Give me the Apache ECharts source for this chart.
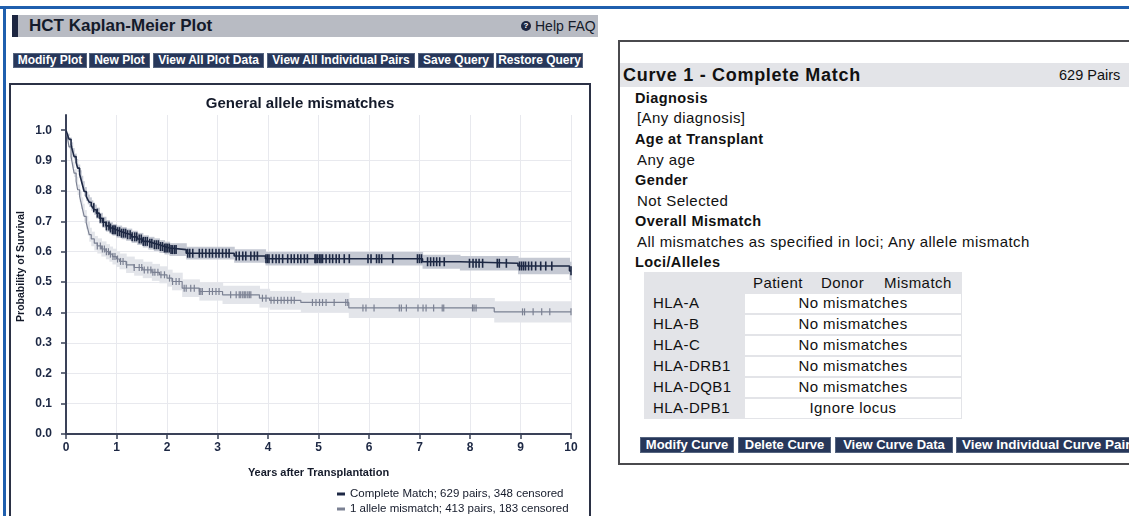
<!DOCTYPE html>
<html><head><meta charset="utf-8">
<script src="https://cdn.jsdelivr.net/npm/echarts@6/dist/echarts.min.js"></script>
<style>
html,body{margin:0;padding:0;width:1129px;height:516px;overflow:hidden;background:#fff;font-family:"Liberation Sans",Arial,Helvetica,sans-serif;color:#141414;}
.a{position:absolute;white-space:nowrap;}
.btn{position:absolute;background:#27375a;color:#fff;font-weight:bold;text-align:center;white-space:nowrap;overflow:hidden;box-shadow:inset 0 0 0 1px #55647f;font-family:"Liberation Sans Narrow","Liberation Sans",Arial,sans-serif;}
.h{font-weight:bold;font-size:14.5px;line-height:20px;letter-spacing:0.4px;color:#111;}
.v{font-size:15px;line-height:20px;letter-spacing:0.45px;color:#111;}
</style></head>
<body>
<div class="a" style="left:0;top:6px;width:1129px;height:3px;background:#1f5fae"></div>
<div class="a" style="left:3px;top:6px;width:3px;height:510px;background:#1f5fae"></div>

<div class="a" style="left:12px;top:15px;width:586px;height:22px;background:#b8bbc3"></div>
<div class="a" style="left:12px;top:15px;width:6px;height:22px;background:#1c2540"></div>
<div class="a" style="left:29px;top:15px;line-height:22px;font-size:17px;font-weight:bold;color:#141a2a">HCT Kaplan-Meier Plot</div>
<div class="a" style="left:521px;top:21px;width:10px;height:10px;border-radius:5px;background:#1c2540;color:#fff;font-size:8px;font-weight:bold;line-height:10px;text-align:center">?</div>
<div class="a" style="left:535px;top:15px;line-height:22px;font-size:14px;color:#141a2a">Help FAQ</div>

<div class="btn" style="left:13px;top:53px;width:74px;height:15px;line-height:15px;font-size:12px">Modify Plot</div>
<div class="btn" style="left:89px;top:53px;width:61px;height:15px;line-height:15px;font-size:12px">New Plot</div>
<div class="btn" style="left:153px;top:53px;width:111px;height:15px;line-height:15px;font-size:12px">View All Plot Data</div>
<div class="btn" style="left:267px;top:53px;width:148px;height:15px;line-height:15px;font-size:12px">View All Individual Pairs</div>
<div class="btn" style="left:418px;top:53px;width:76px;height:15px;line-height:15px;font-size:12px">Save Query</div>
<div class="btn" style="left:496px;top:53px;width:87px;height:15px;line-height:15px;font-size:12px">Restore Query</div>

<div class="a" style="left:9px;top:83px;width:578px;height:460px;border:2px solid #2b3145"></div>
<div id="chart" class="a" style="left:11px;top:85px;width:578px;height:431px"></div>

<div class="a" style="left:618px;top:40px;width:600px;height:421px;border:2px solid #4a4a4e"></div>
<div class="a" style="left:620px;top:63px;width:509px;height:24px;background:#e3e4e8"></div>
<div class="a" style="left:623px;top:63px;line-height:24px;font-size:18px;font-weight:bold;letter-spacing:0.7px;color:#111">Curve 1 - Complete Match</div>
<div class="a" style="left:1059px;top:63px;line-height:24px;font-size:14.5px;color:#111">629 Pairs</div>

<div class="a h" style="left:635px;top:88px">Diagnosis</div>
<div class="a v" style="left:637px;top:108px">[Any diagnosis]</div>
<div class="a h" style="left:635px;top:129px">Age at Transplant</div>
<div class="a v" style="left:637px;top:150px">Any age</div>
<div class="a h" style="left:635px;top:170px">Gender</div>
<div class="a v" style="left:637px;top:191px">Not Selected</div>
<div class="a h" style="left:635px;top:211px">Overall Mismatch</div>
<div class="a v" style="left:637px;top:232px">All mismatches as specified in loci; Any allele mismatch</div>
<div class="a h" style="left:635px;top:252px">Loci/Alleles</div>

<div class="a" style="left:644px;top:272px;width:318px;height:147px;background:#e3e4e8"></div>
<div class="a v" style="left:753px;top:273px">Patient</div>
<div class="a v" style="left:821px;top:273px">Donor</div>
<div class="a v" style="left:884px;top:273px">Mismatch</div>
<div id="rows"></div>

<div class="btn" style="left:640px;top:437px;width:94px;height:16px;line-height:16px;font-size:13px">Modify Curve</div>
<div class="btn" style="left:738px;top:437px;width:93px;height:16px;line-height:16px;font-size:13px">Delete Curve</div>
<div class="btn" style="left:835px;top:437px;width:118px;height:16px;line-height:16px;font-size:13px">View Curve Data</div>
<div class="btn" style="left:956px;top:437px;width:190px;height:16px;line-height:16px;font-size:13.5px;text-align:left;padding-left:6px">View Individual Curve Pairs</div>

<script>
// ---- table content ----
const lociNames = ['HLA-A','HLA-B','HLA-C','HLA-DRB1','HLA-DQB1','HLA-DPB1'];
const lociValues = ['No mismatches','No mismatches','No mismatches','No mismatches','No mismatches','Ignore locus'];

// ---- chart data ----
const xTickLabels = ['0','1','2','3','4','5','6','7','8','9','10'];
const yTickValues = [0,0.1,0.2,0.3,0.4,0.5,0.6,0.7,0.8,0.9,1.0];
const yTickLabels = ['0.0','0.1','0.2','0.3','0.4','0.5','0.6','0.7','0.8','0.9','1.0'];

const cmName = 'Complete Match; 629 pairs, 348 censored';
const amName = '1 allele mismatch; 413 pairs, 183 censored';

const cmTimes = [0,0.03,0.06,0.1,0.13,0.16,0.2,0.23,0.27,0.3,0.33,0.36,0.4,0.43,0.46,0.5,0.53,0.56,0.6,0.66,0.72,0.79,0.86,0.92,1.0,1.1,1.19,1.3,1.41,1.52,1.63,1.74,1.85,1.95,2.05,2.38,3.33,3.95,7.06,7.8,8.95,9.97,10];
const cmSurv  = [1.0,0.985,0.97,0.952,0.932,0.913,0.894,0.875,0.855,0.836,0.817,0.798,0.782,0.772,0.763,0.752,0.745,0.738,0.727,0.71,0.697,0.685,0.678,0.672,0.666,0.661,0.656,0.649,0.642,0.634,0.628,0.623,0.617,0.612,0.607,0.595,0.586,0.577,0.567,0.562,0.553,0.537,0.537];
const cmLower = [1.0,0.981,0.964,0.944,0.923,0.903,0.883,0.863,0.842,0.822,0.802,0.783,0.767,0.756,0.747,0.735,0.728,0.721,0.709,0.692,0.679,0.666,0.659,0.653,0.646,0.641,0.636,0.629,0.622,0.614,0.607,0.602,0.596,0.591,0.586,0.574,0.564,0.555,0.544,0.538,0.526,0.507,0.507];
const cmUpper = [1.0,0.989,0.976,0.96,0.941,0.923,0.905,0.887,0.868,0.85,0.832,0.813,0.797,0.788,0.779,0.769,0.762,0.755,0.745,0.728,0.715,0.704,0.697,0.691,0.686,0.681,0.676,0.669,0.662,0.654,0.649,0.644,0.638,0.633,0.628,0.616,0.608,0.599,0.59,0.586,0.58,0.567,0.567];
const cmCensor = [0.55,0.62,0.68,0.74,0.8,0.85,0.88,0.92,0.95,0.98,1.02,1.06,1.1,1.14,1.18,1.22,1.27,1.31,1.36,1.4,1.45,1.49,1.53,1.57,1.61,1.66,1.7,1.75,1.79,1.83,1.87,1.91,1.95,1.98,2.01,2.045,2.08,2.11,2.15,2.18,2.41,2.45,2.51,2.64,2.7,2.77,2.84,2.9,2.97,3.03,3.1,3.17,3.23,3.37,3.43,3.5,3.56,3.66,3.73,3.79,3.96,3.99,4.02,4.09,4.16,4.22,4.29,4.39,4.46,4.52,4.59,4.65,4.72,4.78,4.93,4.95,4.98,5.02,5.05,5.08,5.15,5.22,5.28,5.35,5.41,5.51,5.61,5.98,6.04,6.15,6.2,6.25,6.47,6.96,7.0,7.04,7.16,7.22,7.28,7.34,7.4,7.49,7.99,8.06,8.12,8.18,8.25,8.54,8.58,8.72,8.98,9.02,9.06,9.1,9.16,9.22,9.3,9.4,9.5,9.62,10.0];

const amTimes = [0,0.03,0.06,0.1,0.13,0.16,0.2,0.23,0.27,0.3,0.33,0.36,0.4,0.43,0.46,0.5,0.56,0.62,0.7,0.79,0.86,0.92,1.0,1.06,1.19,1.35,1.52,1.7,1.85,2.0,2.1,2.3,2.64,3.1,3.83,4.03,4.65,5.6,8.48,10];
const amSurv  = [1.0,0.975,0.945,0.913,0.886,0.859,0.832,0.804,0.782,0.76,0.738,0.716,0.696,0.676,0.656,0.642,0.628,0.619,0.609,0.6,0.592,0.584,0.576,0.568,0.557,0.548,0.54,0.532,0.524,0.513,0.502,0.48,0.469,0.458,0.447,0.44,0.433,0.415,0.402,0.402];
const amLower = [1.0,0.971,0.939,0.904,0.875,0.846,0.817,0.787,0.764,0.741,0.718,0.695,0.674,0.653,0.633,0.618,0.604,0.594,0.584,0.575,0.567,0.558,0.55,0.542,0.53,0.521,0.513,0.504,0.496,0.485,0.473,0.451,0.439,0.428,0.416,0.409,0.401,0.382,0.367,0.367];
const amUpper = [1.0,0.979,0.951,0.922,0.897,0.872,0.847,0.821,0.8,0.779,0.758,0.737,0.718,0.699,0.679,0.666,0.652,0.644,0.634,0.625,0.617,0.61,0.602,0.594,0.584,0.575,0.567,0.56,0.552,0.541,0.531,0.509,0.499,0.488,0.478,0.471,0.465,0.448,0.437,0.437];
const amCensor = [0.62,0.68,0.72,0.76,0.8,0.84,0.88,0.93,0.97,1.02,1.08,1.13,1.2,1.35,1.45,1.5,1.55,1.62,1.68,1.72,1.76,1.82,1.88,1.95,2.05,2.11,2.18,2.24,2.34,2.38,2.47,2.54,2.64,2.67,2.7,2.84,2.9,2.97,3.03,3.26,3.37,3.43,3.46,3.5,3.53,3.56,3.6,3.63,3.66,3.89,3.96,4.06,4.12,4.19,4.26,4.32,4.39,4.46,4.52,4.88,4.95,5.02,5.08,5.15,5.31,5.54,5.58,5.88,5.94,6.1,6.6,6.64,6.74,6.97,7.07,7.13,7.28,7.45,7.48,8.05,8.08,8.12,9.04,9.08,9.25,9.42,9.58,10.0];

// table rows
(function(){
  const box = document.getElementById('rows');
  lociNames.forEach((n,i)=>{
    const top = 293 + i*21;
    const l = document.createElement('div');
    l.className='a v'; l.style.left='653px'; l.style.top=(top)+'px'; l.textContent=n;
    const c = document.createElement('div');
    c.className='a'; c.style.cssText='left:745px;top:'+(top+1)+'px;width:216px;height:19px;background:#fff';
    const t = document.createElement('div');
    t.className='a v'; t.style.cssText='left:745px;top:'+top+'px;width:216px;text-align:center';
    t.textContent=lociValues[i];
    box.appendChild(c); box.appendChild(l); box.appendChild(t);
  });
})();

function pairs(ts, vs){ return ts.map((t,i)=>[t, vs[i]]); }
// band intervals: [t_i, t_{i+1}, lower_i, upper_i]
function bandIntervals(ts, lo, up){ const out=[]; for(let i=0;i<ts.length-1;i++){ out.push([ts[i], ts[i+1], lo[i], up[i]]); } return out; }
function stepAt(ts, vs, t){ let v = vs[0]; for (let i=0;i<ts.length;i++){ if (ts[i] <= t + 1e-9) v = vs[i]; else break; } return v; }
function censorPts(c, ts, vs){ return c.map(t=>[t, stepAt(ts, vs, t)]); }

const FONT = '"Liberation Sans", Arial, Helvetica, sans-serif';
const NAVY = '#1d2844';
const GRAY = '#7b8193';

function bandSeries(name, data, fill){
  return {name:name, type:'custom', silent:true, z:1, data:data,
    encode:{x:[0,1], y:[2,3]},
    renderItem:function(params, api){
      const p0 = api.coord([api.value(0), api.value(3)]);
      const p1 = api.coord([api.value(1), api.value(2)]);
      return {type:'rect', shape:{x:p0[0], y:p0[1], width:p1[0]-p0[0]+0.6, height:p1[1]-p0[1]},
        style:{fill:fill}};
    }};
}

const chart = echarts.init(document.getElementById('chart'), null, {renderer:'canvas'});
const legendCommon = {orient:'horizontal', left:321, itemWidth:8, itemHeight:3, icon:'rect', selectedMode:false,
    textStyle:{fontSize:11.5, color:'#141a2a', fontFamily:FONT}};
chart.setOption({
  animation:false,
  textStyle:{fontFamily:FONT},
  title:{text:'General allele mismatches', left:'center', top:6,
    textStyle:{fontSize:15, fontWeight:'bold', color:'#141a2a', fontFamily:FONT}},
  grid:{left:55, top:30, width:505, height:319, containLabel:false, outerBoundsMode:'none'},
  legend:[
    Object.assign({top:398, data:[cmName]}, legendCommon),
    Object.assign({top:413, data:[amName]}, legendCommon)
  ],
  xAxis:{type:'value', min:0, max:10, interval:1,
    name:'Years after Transplantation', nameLocation:'middle', nameGap:33,
    nameTextStyle:{fontSize:11, fontWeight:'bold', color:'#141a2a', fontFamily:FONT},
    axisLine:{lineStyle:{color:'#3a4158', width:2}},
    axisTick:{show:true, inside:false, length:5, lineStyle:{color:'#3a4158', width:1.5}},
    axisLabel:{fontSize:12, fontWeight:'bold', color:'#1d2844', margin:8, fontFamily:FONT,
      formatter:(v)=>xTickLabels[Math.round(v)] || ''},
    splitLine:{show:true, lineStyle:{color:'#e8e9ee', width:1}}},
  yAxis:{type:'value', min:0, max:1.05, interval:0.1,
    name:'Probability of Survival', nameLocation:'middle', nameGap:39, nameRotate:90, nameMoveOverlap:false,
    nameTextStyle:{fontSize:10.5, fontWeight:'bold', color:'#141a2a', fontFamily:FONT, padding:[0,0,0,16]},
    axisLine:{show:true, onZero:false, lineStyle:{color:'#3a4158', width:2}},
    axisTick:{show:true, inside:false, length:5, customValues:yTickValues, lineStyle:{color:'#3a4158', width:1.5}},
    axisLabel:{fontSize:12, fontWeight:'bold', color:'#1d2844', margin:14, fontFamily:FONT,
      customValues:yTickValues,
      formatter:(v)=>{ const i = yTickValues.findIndex(x=>Math.abs(x-v)<1e-6); return i>=0 ? yTickLabels[i] : ''; }},
    splitLine:{show:true, showMaxLine:false, lineStyle:{color:'#e8e9ee', width:1}}},
  series:[
    bandSeries('amBand', bandIntervals(amTimes, amLower, amUpper), '#e3e5ea'),
    bandSeries('cmBand', bandIntervals(cmTimes, cmLower, cmUpper), '#c5c9d3'),
    {name:amName, type:'line', step:'end', symbol:'none', z:3, data:pairs(amTimes, amSurv), color:GRAY,
      itemStyle:{color:GRAY}, lineStyle:{color:GRAY, width:1.2}},
    {name:cmName, type:'line', step:'end', symbol:'none', z:3, data:pairs(cmTimes, cmSurv), color:NAVY,
      itemStyle:{color:NAVY}, lineStyle:{color:NAVY, width:1.6}},
    {name:'amCensor', type:'scatter', symbol:'rect', symbolSize:[1.2,7], z:5, data:censorPts(amCensor, amTimes, amSurv),
      itemStyle:{color:GRAY, opacity:1}, silent:true},
    {name:'cmCensor', type:'scatter', symbol:'rect', symbolSize:[1.6,9], z:5, data:censorPts(cmCensor, cmTimes, cmSurv),
      itemStyle:{color:NAVY, opacity:1}, silent:true}
  ]
});
</script>
</body></html>
